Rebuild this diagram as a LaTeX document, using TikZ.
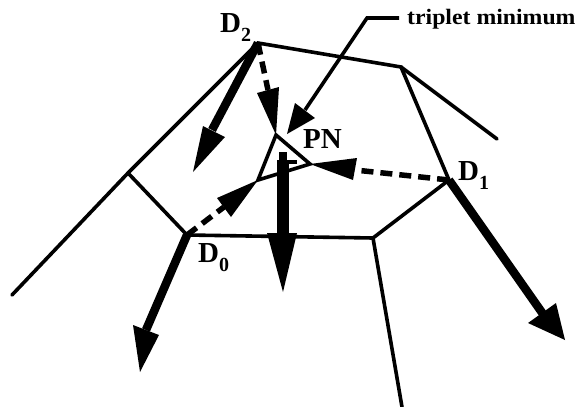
\documentclass[tikz,border=0pt]{standalone}
\usepackage{fontspec}
\setmainfont{Liberation Serif}
\usetikzlibrary{calc}
\tikzset{
  edge/.style={line width=3.6pt,line cap=round,line join=miter},
  dashedge/.style={line width=5.5pt,dash pattern=on 12pt off 7pt},
  thick shaft/.style={line width=8.5pt},
  head/.style={fill=black,draw=none},
  lab/.style={inner sep=0pt,font=\bfseries\fontsize{29}{29}\selectfont,anchor=base west},
  note/.style={inner sep=0pt,font=\bfseries\fontsize{22}{22}\selectfont,anchor=base west,xscale=1.08},
}
\newcommand{\subn}[1]{\raisebox{-9pt}{\fontsize{20}{20}\selectfont #1}}
\begin{document}
\begin{tikzpicture}[x=1pt,y=-1pt]
\useasboundingbox (0,0) rectangle (579,407);
% vertices
\coordinate (D2) at (258,43);
\coordinate (T) at (401,67);
\coordinate (D1) at (449,180);
\coordinate (H) at (373,238);
\coordinate (D0) at (187,235);
\coordinate (L) at (128,173);
\coordinate (E1) at (12,295);
\coordinate (E2) at (497,139);
\coordinate (E3) at (402,407);
% triplet triangle
\coordinate (A) at (276,135);
\coordinate (B) at (310,164);
\coordinate (C) at (258,180);
\draw[edge] (E1) -- (L) -- (D2) -- (T) -- (D1) -- (H) -- (D0) -- (L);
\draw[edge] (T) -- (E2);
\draw[edge] (H) -- (E3);
\draw[edge] (A) -- (B) -- (C) -- cycle;
% dashed connectors and heads
\draw[dashedge] (D2) -- (268,90);
\fill[head] (A) -- (257,93) -- (279,87) -- cycle;
\draw[dashedge] (D1) -- (355,170);
\fill[head] (B) -- (357,158) -- (353,180) -- cycle;
\draw[dashedge] (D0) -- (224,207);
\fill[head] (C) -- (217,198) -- (231,217) -- cycle;
% thick arrows
\draw[thick shaft] (D2) -- (212,130);
\fill[head] (193,172) -- (203,126) -- (225,137) -- cycle;
\draw[thick shaft] (D1) -- (543,314);
\fill[head] (565,340) -- (528,323) -- (556,303) -- cycle;
\draw[thick shaft] (D0) -- (146,330);
\fill[head] (140,372) -- (133,325) -- (159,335) -- cycle;
\draw[line width=11.5pt] (283,160) -- (283,235);
\fill[head] (283,292) -- (267,233) -- (297,233) -- cycle;
\fill[head] (279,160) rectangle (287,152);
\fill[head] (283,160) rectangle (297,164);
% leader
\coordinate (N1) at (399,18);
\coordinate (N2) at (367,18);
\draw[line width=3.6pt,line join=miter] (N1) -- (N2) -- (305,110);
\fill[head] (287,134) -- (295,103) -- (315,118) -- cycle;
% labels
\node[lab] (d2) at (220,32) {D\subn{2}};
\node[lab] (d1) at (458,180) {D\subn{1}};
\node[lab] (d0) at (198,262) {D\subn{0}};
\node[lab] (pn) at (303,148) {PN};
\node[note] (tm) at (407,24) {triplet minimum};
\end{tikzpicture}
\end{document}
